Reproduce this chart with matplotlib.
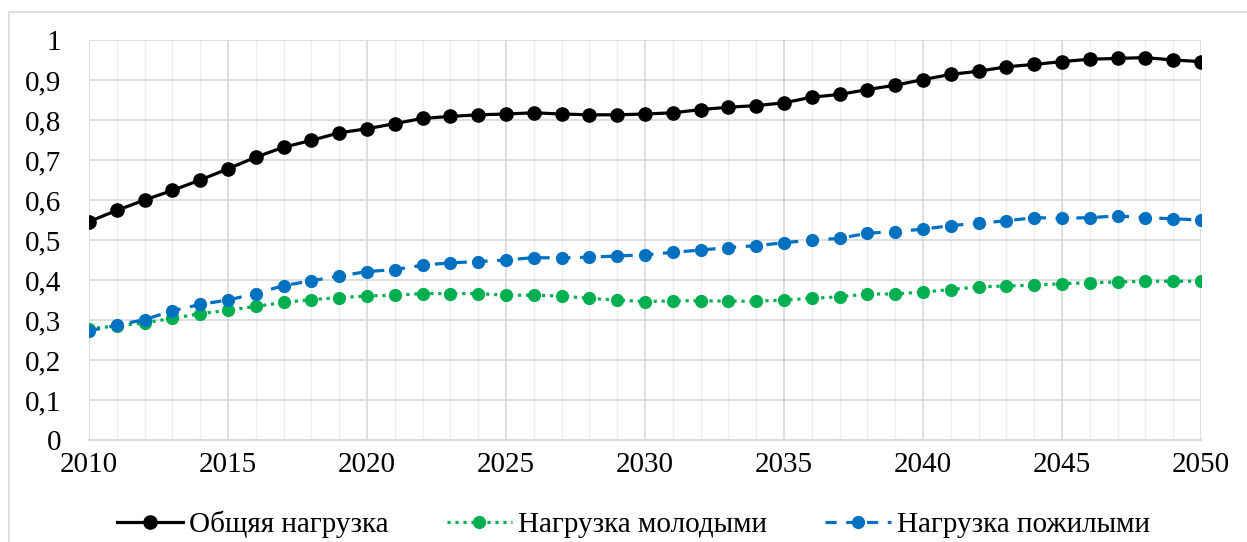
import matplotlib
matplotlib.use("Agg")
import matplotlib.pyplot as plt
from matplotlib.ticker import MultipleLocator, FuncFormatter
from matplotlib.patches import Rectangle

years = list(range(2010, 2051))

total = [0.546, 0.574, 0.600, 0.624, 0.650, 0.678, 0.707, 0.732, 0.749, 0.768,
         0.778, 0.791, 0.804, 0.809, 0.813, 0.815, 0.818, 0.815, 0.813, 0.813,
         0.815, 0.818, 0.826, 0.832, 0.836, 0.843, 0.857, 0.864, 0.876, 0.887,
         0.901, 0.914, 0.922, 0.933, 0.939, 0.946, 0.952, 0.954, 0.956, 0.950,
         0.946]

young = [0.278, 0.285, 0.293, 0.304, 0.316, 0.324, 0.334, 0.344, 0.351, 0.356,
         0.360, 0.362, 0.366, 0.366, 0.366, 0.362, 0.362, 0.360, 0.354, 0.350,
         0.346, 0.348, 0.348, 0.347, 0.347, 0.350, 0.354, 0.358, 0.365, 0.365,
         0.370, 0.376, 0.383, 0.385, 0.387, 0.391, 0.393, 0.395, 0.397, 0.397,
         0.397]

elderly = [0.273, 0.287, 0.301, 0.323, 0.339, 0.350, 0.366, 0.386, 0.398, 0.410,
           0.421, 0.426, 0.437, 0.443, 0.446, 0.450, 0.456, 0.455, 0.457, 0.460,
           0.463, 0.469, 0.475, 0.481, 0.486, 0.493, 0.500, 0.504, 0.517, 0.521,
           0.527, 0.536, 0.542, 0.548, 0.556, 0.554, 0.556, 0.560, 0.556, 0.553,
           0.550]

labels = ["Общяя нагрузка", "Нагрузка молодыми", "Нагрузка пожилыми"]

plt.rcParams['font.family'] = ['Liberation Serif', 'DejaVu Serif']

fig = plt.figure(figsize=(12.47, 5.42), dpi=100)
fig.patches.append(Rectangle((9 / 1247, -0.1), 1.5, 1 - 12 / 542 + 0.1,
                             transform=fig.transFigure, fill=False,
                             edgecolor='#D9D9D9', linewidth=1.2))
ax = fig.add_axes([89 / 1247, 1 - 440 / 542, (1201 - 89) / 1247, 400 / 542])

ax.plot(years, total, color='black', linestyle='-', linewidth=2.3,
        marker='o', markersize=9.5, label=labels[0], zorder=5)
ax.plot(years, young, color='#00B050', linestyle=(0, (1, 1.5)), linewidth=2.3,
        marker='o', markersize=8.5, label=labels[1], zorder=4)
ax.plot(years, elderly, color='#0070C0', linestyle=(0, (3.5, 3)), linewidth=2.3,
        marker='o', markersize=8.5, label=labels[2], zorder=4)

ax.set_xlim(2010, 2050)
ax.set_ylim(0, 1)
ax.xaxis.set_major_locator(MultipleLocator(5))
ax.xaxis.set_minor_locator(MultipleLocator(1))
ax.yaxis.set_major_locator(MultipleLocator(0.1))
ax.yaxis.set_major_formatter(FuncFormatter(
    lambda v, p: "0" if abs(v) < 1e-9 else ("1" if abs(v - 1) < 1e-9 else f"{v:.1f}".replace('.', ','))))

ax.grid(which='major', color='#D9D9D9', linewidth=1.2)
ax.grid(which='minor', axis='x', color='#EEEEEE', linewidth=1.0)
ax.set_axisbelow(True)
for s in ['top', 'right', 'left']:
    ax.spines[s].set_visible(False)
ax.spines['bottom'].set_color('#D9D9D9')
ax.spines['bottom'].set_linewidth(1.5)

ax.tick_params(which='both', length=0)
ax.tick_params(axis='y', pad=20, labelsize=21)
ax.tick_params(axis='x', pad=9, labelsize=21)

leg = fig.legend(loc='center', bbox_to_anchor=(0.508, 1 - 524 / 542), ncol=3,
                 frameon=False, fontsize=21, handlelength=2.25, columnspacing=2.0,
                 handletextpad=0.2)

fig.savefig("out.png", dpi=100)
